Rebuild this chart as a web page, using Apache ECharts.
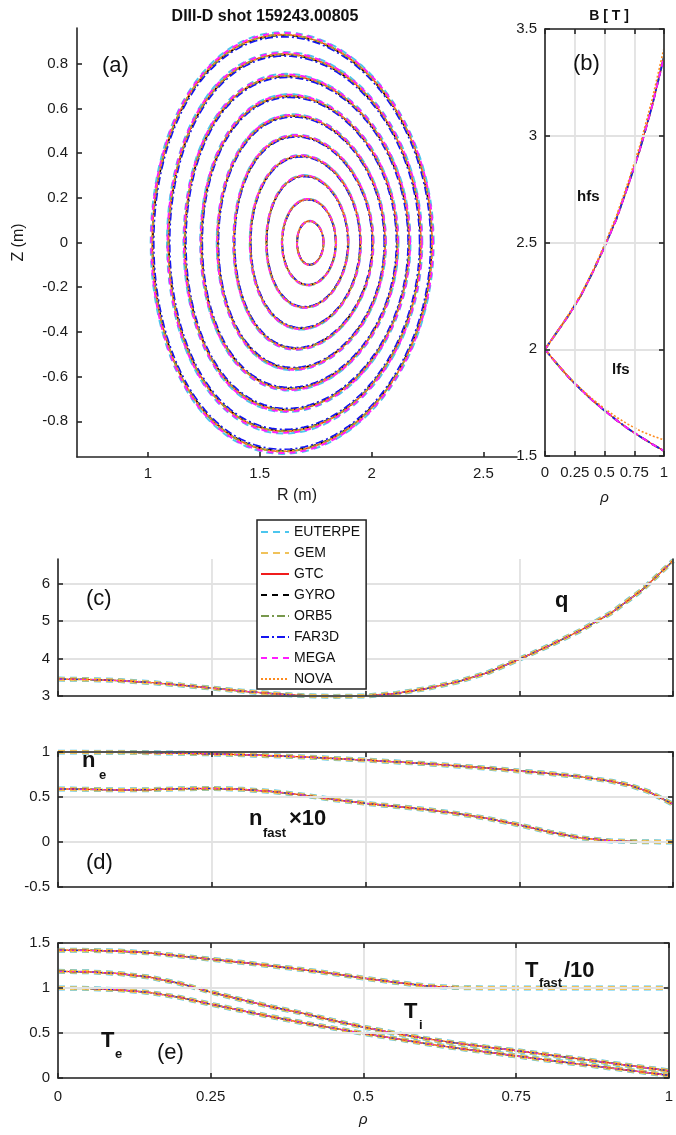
<!DOCTYPE html>
<html><head><meta charset="utf-8">
<script src="https://cdn.jsdelivr.net/npm/echarts@6/dist/echarts.min.js"></script>
<style>html,body{margin:0;padding:0;background:#fff}#c{width:676px;height:1135px}</style>
</head><body><div id="c"></div><script>
// ---------------- DATA ----------------
const codes = ['EUTERPE','GEM','GTC','GYRO','ORB5','FAR3D','MEGA','NOVA'];

// (a) flux surfaces, rho = 0.1 ... 1.0 (read extents, metres)
const surfRho  = [0.1,0.2,0.3,0.4,0.5,0.6,0.7,0.8,0.9,1.0];
const surfRin  = [1.667,1.600,1.530,1.458,1.385,1.312,1.239,1.165,1.092,1.020];
const surfRout = [1.785,1.840,1.895,1.950,2.005,2.060,2.115,2.168,2.220,2.270];
const surfZtop = [0.096,0.193,0.298,0.387,0.477,0.567,0.656,0.746,0.843,0.930];
const surfZbot = [-0.100,-0.190,-0.290,-0.385,-0.475,-0.565,-0.655,-0.750,-0.845,-0.935];
const surfRtop = [1.723,1.716,1.700,1.685,1.663,1.650,1.634,1.620,1.610,1.603];
// small code-to-code size differences of the surfaces (relative)
const codeSurfScale = [1.012,1.0,1.0,0.996,1.0,0.99,1.008,1.0];

// (b) B field
const rhoB = [0,0.05,0.1,0.2,0.3,0.4,0.5,0.6,0.7,0.8,0.9,1.0];
const Bhfs = [2.00,2.04,2.08,2.16,2.25,2.36,2.48,2.61,2.77,2.94,3.14,3.37];
const BhfsNova = [2.00,2.04,2.08,2.165,2.255,2.365,2.49,2.625,2.785,2.96,3.17,3.41];
const Blfs = [2.00,1.965,1.932,1.868,1.812,1.760,1.713,1.668,1.627,1.591,1.556,1.524];
const BlfsNova = [2.00,1.965,1.932,1.870,1.816,1.766,1.722,1.682,1.648,1.618,1.595,1.575];

// (c) safety factor
const rhoQ = [0,0.05,0.1,0.15,0.2,0.25,0.3,0.35,0.4,0.45,0.5,0.55,0.6,0.65,0.7,0.75,0.8,0.85,0.9,0.95,1.0];
const qProf = [3.45,3.44,3.41,3.36,3.29,3.21,3.13,3.06,3.01,2.99,3.0,3.07,3.2,3.38,3.63,3.98,4.35,4.75,5.22,5.83,6.6];

// (d) densities
const rhoNe = [0,0.1,0.2,0.3,0.4,0.5,0.6,0.7,0.75,0.8,0.85,0.9,0.93,0.96,0.98,1.0];
const neProf = [1.0,0.997,0.987,0.97,0.945,0.91,0.87,0.82,0.79,0.76,0.725,0.675,0.63,0.56,0.49,0.42];
const rhoNf = [0,0.05,0.1,0.15,0.2,0.25,0.3,0.35,0.4,0.45,0.5,0.55,0.6,0.65,0.7,0.75,0.8,0.85,0.9,0.95,1.0];
const nfastProf = [0.59,0.585,0.578,0.582,0.592,0.595,0.585,0.56,0.52,0.47,0.43,0.395,0.36,0.315,0.26,0.19,0.11,0.045,0.012,0.003,0.0];

// (e) temperatures
const rhoT = [0,0.05,0.1,0.15,0.2,0.25,0.3,0.35,0.4,0.45,0.5,0.55,0.6,0.65,0.7,0.75,0.8,0.9,1.0];
const TfastProf = [1.42,1.418,1.41,1.39,1.355,1.32,1.285,1.245,1.205,1.16,1.11,1.065,1.025,1.005,1.0,1.0,1.0,1.0,1.0];
const TiProf = [1.185,1.18,1.16,1.12,1.05,0.955,0.87,0.79,0.72,0.64,0.565,0.5,0.44,0.39,0.345,0.305,0.26,0.17,0.08];
const TeProf = [1.0,0.995,0.98,0.95,0.895,0.82,0.75,0.68,0.615,0.555,0.495,0.44,0.385,0.335,0.29,0.245,0.2,0.115,0.03];

// tick labels
const ticksR = [1,1.5,2,2.5];
const ticksZ = [-0.8,-0.6,-0.4,-0.2,0,0.2,0.4,0.6,0.8];
const ticksRho = [0,0.25,0.5,0.75,1];
const ticksB = [1.5,2,2.5,3,3.5];
const ticksQ = [3,4,5,6];
const ticksN = [-0.5,0,0.5,1];
const ticksT = [0,0.5,1,1.5];

// ---------------- STYLE ----------------
const FONT = '"Liberation Sans", Arial, Helvetica, sans-serif';
const TXT = '#1a1a1a';
const AX = '#262626';
const GRIDC = '#e2e2e2';
const codeColor = ['#4cc6ee','#f0c25a','#f01c1c','#000000','#78984c','#1414f0','#ff1cff','#ff8a1c'];
const codeType  = [[7,5],[7,5],'solid',[6,5],[8,3,2,3],[8,3,2,3],[6,5],[2,2]];
const codeWidthA = [2,2,1.2,1.4,2,1.6,2,1.6];
const codeWidthP = [5,4,1.2,1.2,1.8,1,1,1.4];

function zip(xs, ys){ return xs.map((x,i)=>[x, ys[i]]); }
function join(curves){ const out=[]; curves.forEach((c,i)=>{ if(i) out.push(['-','-']); out.push(...c); }); return out; }

function surfacePoints(k, s){
  const Rc=(surfRin[k]+surfRout[k])/2, a=(surfRout[k]-surfRin[k])/2;
  const d=Math.asin(Math.max(-1,Math.min(1,(Rc-surfRtop[k])/a)));
  const pts=[]; const N=120;
  for(let j=0;j<=N;j++){
    const th=2*Math.PI*j/N, st=Math.sin(th);
    pts.push([Rc+s*a*Math.cos(th+d*st), s*(st>=0?surfZtop[k]:-surfZbot[k])*st]);
  }
  return pts;
}

const series=[];
function addSeries(i, xi, yi, data, widths, extra){
  series.push(Object.assign({
    name: codes[i], type:'line', xAxisIndex:xi, yAxisIndex:yi, data:data,
    symbol:'none', showSymbol:false, connectNulls:false, smooth:false, silent:true,
    lineStyle:{color:codeColor[i], width:widths[i], type:codeType[i]},
    itemStyle:{color:codeColor[i]}, emphasis:{disabled:true}, animation:false
  }, extra||{}));
}
codes.forEach((c,i)=>{
  addSeries(i,0,0, join(surfRho.map((r,k)=>surfacePoints(k, codeSurfScale[i]))), codeWidthA);
  const hfs = c==='NOVA'?BhfsNova:Bhfs, lfs = c==='NOVA'?BlfsNova:Blfs;
  addSeries(i,1,1, join([zip(rhoB,hfs), zip(rhoB,lfs)]), codeWidthA);
  addSeries(i,3,3, zip(rhoQ,qProf), codeWidthP, {clip:false});
  addSeries(i,4,5, join([zip(rhoNe,neProf), zip(rhoNf,nfastProf)]), codeWidthP);
  addSeries(i,6,7, join([zip(rhoT,TfastProf), zip(rhoT,TiProf), zip(rhoT,TeProf)]), codeWidthP);
});

// ---------------- AXES ----------------
function axis(o){
  const a = {
    type:'value', gridIndex:o.g, min:o.min, max:o.max, position:o.pos,
    axisLine:{show:true, onZero:false, lineStyle:{color:AX, width:1.6}},
    axisTick:{show:o.ticks!==null, inside:true, length:5, customValues:o.ticks||undefined, lineStyle:{color:AX,width:1.6}},
    axisLabel:{show:!!o.labels, customValues:o.ticks||undefined, color:TXT, fontSize:15, fontFamily:FONT, margin:o.margin||8, hideOverlap:false},
    splitLine:{show:!!o.split, lineStyle:{color:GRIDC, width:1.8}},
    axisPointer:{show:false}, silent:true, z:5
  };
  if(o.name){ Object.assign(a,{name:o.name, nameLocation:'middle', nameGap:o.nameGap,
    nameRotate:o.nameRotate, nameTextStyle:Object.assign({color:TXT, fontSize:16, fontFamily:FONT}, o.nameStyle||{})}); }
  return a;
}
const xAxis=[
  axis({g:0,min:0.683,max:2.65,pos:'bottom',ticks:ticksR,labels:true,name:'R (m)',nameGap:31,margin:9}),
  axis({g:1,min:0,max:1,pos:'bottom',ticks:ticksRho,labels:true,split:true,name:'ρ',nameGap:34,nameStyle:{fontStyle:'italic',fontSize:15},margin:9}),
  axis({g:1,min:0,max:1,pos:'top',ticks:ticksRho}),
  axis({g:2,min:0,max:1,pos:'bottom',ticks:ticksRho,split:true}),
  axis({g:3,min:0,max:1,pos:'bottom',ticks:ticksRho,split:true}),
  axis({g:3,min:0,max:1,pos:'top',ticks:ticksRho}),
  axis({g:4,min:0,max:1,pos:'bottom',ticks:ticksRho,labels:true,split:true,name:'ρ',nameGap:34,nameStyle:{fontStyle:'italic',fontSize:15},margin:11}),
  axis({g:4,min:0,max:1,pos:'top',ticks:ticksRho})
];
const yAxis=[
  axis({g:0,min:-0.96,max:0.96,pos:'left',ticks:ticksZ,labels:true,name:'Z (m)',nameGap:50,nameRotate:90,margin:9}),
  axis({g:1,min:1.5,max:3.5,pos:'left',ticks:ticksB,labels:true,split:true}),
  axis({g:1,min:1.5,max:3.5,pos:'right',ticks:ticksB}),
  axis({g:2,min:3,max:6.65,pos:'left',ticks:ticksQ,labels:true,split:true}),
  axis({g:2,min:3,max:6.65,pos:'right',ticks:ticksQ}),
  axis({g:3,min:-0.5,max:1,pos:'left',ticks:ticksN,labels:true,split:true}),
  axis({g:3,min:-0.5,max:1,pos:'right',ticks:ticksN}),
  axis({g:4,min:0,max:1.5,pos:'left',ticks:ticksT,labels:true,split:true}),
  axis({g:4,min:0,max:1.5,pos:'right',ticks:ticksT})
];

// ---------------- ANNOTATIONS ----------------
function t(text,x,y,size,bold,extra){
  return Object.assign({type:'text', left:x, top:y-size*0.6, z:20, silent:true,
    style:{text:text, fill:'#111', font:(bold?'bold ':'')+size+'px '+FONT}}, extra||{});
}
const graphic=[
  t('(a)',102,68,22,false),
  t('(b)',573,66,22,false),
  t('hfs',577,198,15,true),
  t('lfs',612,371,15,true),
  t('(c)',86,601,22,false),
  t('q',555,603,22,true),
  t('n',82,763,22,true), t('e',99,777,13,true),
  t('(d)',86,865,22,false),
  t('n',249,821,22,true), t('fast',263,835,13,true), t('×10',289,821,22,true),
  t('T',525,973,22,true), t('fast',539,985,13,true), t('/10',564,973,22,true),
  t('T',404,1014,22,true), t('i',419,1027,13,true),
  t('T',101,1043,22,true), t('e',115,1056,13,true),
  t('(e)',157,1055,22,false)
];

const option={
  animation:false,
  backgroundColor:'#fff',
  textStyle:{fontFamily:FONT},
  title:[
    {text:'DIII-D shot 159243.00805', left:260, top:4, textAlign:'center', textStyle:{fontSize:16,fontWeight:'bold',color:'#111',fontFamily:FONT}},
    {text:'B [ T ]', left:604, top:4, textAlign:'center', textStyle:{fontSize:14,fontWeight:'bold',color:'#111',fontFamily:FONT}}
  ],
  legend:{
    data:codes, orient:'vertical', left:257, top:520, itemWidth:28, itemHeight:14, itemGap:7,
    padding:[5,6,3,3], backgroundColor:'#fff', borderColor:'#222', borderWidth:1.5, borderRadius:0,
    textStyle:{fontSize:14,color:'#111',fontFamily:FONT}, lineStyle:{width:2},
    itemStyle:{opacity:0, borderWidth:0}, selectedMode:false, z:15
  },
  grid:[
    {left:77, top:28, width:440, height:429},
    {left:545, top:29, width:119, height:427},
    {left:58, top:559, width:615, height:137},
    {left:58, top:752, width:615, height:135},
    {left:58, top:943, width:615, height:135}
  ],
  xAxis:xAxis, yAxis:yAxis, series:series, graphic:graphic
};
const chart=echarts.init(document.getElementById('c'),null,{renderer:'canvas'});
chart.setOption(option);
</script></body></html>
